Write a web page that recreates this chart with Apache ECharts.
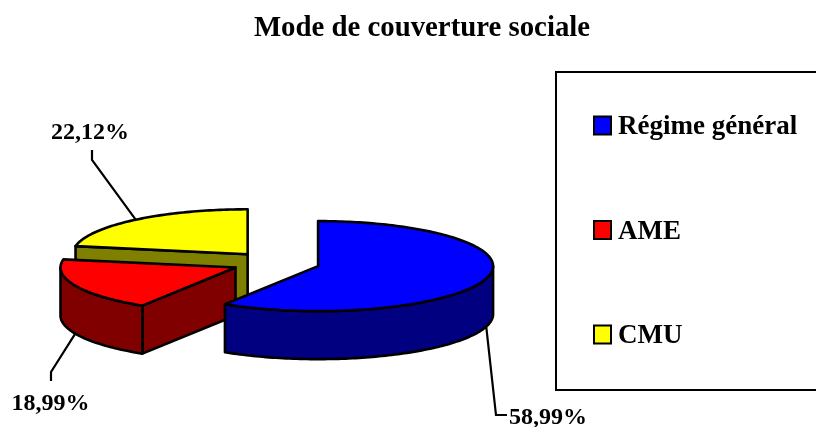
<!DOCTYPE html>
<html>
<head>
<meta charset="utf-8">
<style>
  html, body { margin: 0; padding: 0; background: #fff; }
  #chart { width: 816px; height: 427px; }
</style>
<script src="https://cdn.jsdelivr.net/npm/echarts@6/dist/echarts.min.js"></script>
</head>
<body>
<div id="chart"></div>
<script>
// valeurs
const categories = ['Régime général', 'AME', 'CMU']
const values = [58.99, 18.99, 22.12]
const topColors = ['#0000ff', '#ff0000', '#ffff00']
const sideColors = ['#000080', '#800000', '#808000']

const FONT = '"Liberation Serif", "Times New Roman", serif'

// géométrie de la fausse 3D
const center = [275.8, 263]
const rx = 175
const ry = 45
const depth = 48
const explode = 44

// trait de rappel de chaque étiquette : coude, fin du trait, position du texte
const leaders = [
  { pts: [[496, 415], [507, 415]], text: [548, 418], onWall: true },
  { pts: [[51, 372], [51, 381]], text: [50.5, 404], onWall: true },
  { pts: [[92, 160], [92, 150]], text: [90, 133], onWall: false }
]

const total = values.reduce((a, b) => a + b, 0)
// angles de départ, sens horaire depuis midi
const startAngles = []
values.reduce((sum, v, i) => {
  startAngles[i] = sum / total * Math.PI * 2
  return sum + v
}, 0)

const arcPoints = function (c, a0, a1, dy) {
  const pts = []
  const n = Math.max(2, Math.ceil((a1 - a0) / 0.02))
  for (let i = 0; i <= n; i++) {
    const a = a0 + (a1 - a0) * i / n
    pts.push([c[0] + rx * Math.sin(a), c[1] - ry * Math.cos(a) + dy])
  }
  return pts
}

const lineStyle = { stroke: '#000', lineWidth: 2.6, lineJoin: 'round' }

const renderSlice = function (i) {
  return function () {
    const a0 = startAngles[i]
    const a1 = a0 + values[i] / total * Math.PI * 2
    const mid = (a0 + a1) / 2
    const c = [
      center[0] + explode * Math.sin(mid),
      center[1] - explode * ry / rx * Math.cos(mid)
    ]
    const children = []
    const poly = (points, fill) => ({
      type: 'polygon',
      shape: { points },
      style: Object.assign({ fill }, lineStyle)
    })

    // trait de rappel, sous la part
    const lead = leaders[i]
    const anchor = arcPoints(c, mid, mid, lead.onWall ? depth : 0)[0]
    children.push({
      type: 'polyline',
      shape: { points: [anchor].concat(lead.pts) },
      style: { stroke: '#000', lineWidth: 2.2, fill: null }
    })

    // faces de coupe visibles
    const cutFace = (a) => {
      const e = arcPoints(c, a, a, 0)[0]
      return poly([c, e, [e[0], e[1] + depth], [c[0], c[1] + depth]], sideColors[i])
    }
    if (Math.sin(a0) < -1e-6) children.push(cutFace(a0))
    if (Math.sin(a1) > 1e-6) children.push(cutFace(a1))

    // paroi courbe, seulement la partie avant
    const w0 = Math.max(a0, Math.PI / 2)
    const w1 = Math.min(a1, Math.PI * 1.5)
    if (w1 > w0) {
      const top = arcPoints(c, w0, w1, 0)
      const bottom = arcPoints(c, w0, w1, depth).reverse()
      children.push(poly(top.concat(bottom), sideColors[i]))
    }

    // dessus
    children.push(poly([c].concat(arcPoints(c, a0, a1, 0)), topColors[i]))

    children.push({
      type: 'text',
      style: {
        text: values[i].toFixed(2).replace('.', ',') + '%',
        x: lead.text[0],
        y: lead.text[1],
        align: 'center',
        verticalAlign: 'middle',
        fill: '#000',
        font: 'bold 24px ' + FONT
      }
    })
    return { type: 'group', children }
  }
}

// on dessine du fond vers l'avant
const drawOrder = [2, 1, 0]

const chart = echarts.init(document.getElementById('chart'), null, { renderer: 'canvas' })
chart.setOption({
  backgroundColor: '#fff',
  animation: false,
  title: {
    text: 'Mode de couverture sociale',
    left: 417,
    top: 9,
    textAlign: 'center',
    textStyle: { fontFamily: FONT, fontWeight: 'bold', fontSize: 28.8, color: '#000' }
  },
  legend: {
    orient: 'vertical',
    left: 556,
    top: 72,
    padding: [42, 60, 40, 37],
    data: categories,
    itemWidth: 17,
    itemHeight: 18,
    itemGap: 77.5,
    icon: 'rect',
    selectedMode: false,
    backgroundColor: '#fff',
    borderColor: '#000',
    borderWidth: 2,
    itemStyle: { borderColor: '#000', borderWidth: 2 },
    formatter: name => '{a|' + name + '}',
    textStyle: {
      rich: {
        a: {
          fontFamily: FONT,
          fontWeight: 'bold',
          fontSize: 27,
          color: '#000',
          padding: [4, 0, 0, 2]
        }
      }
    }
  },
  tooltip: { show: false },
  series: drawOrder.map(i => ({
    type: 'custom',
    name: categories[i],
    coordinateSystem: 'none',
    silent: true,
    itemStyle: { color: topColors[i] },
    data: [values[i]],
    renderItem: renderSlice(i)
  }))
})
</script>
</body>
</html>
